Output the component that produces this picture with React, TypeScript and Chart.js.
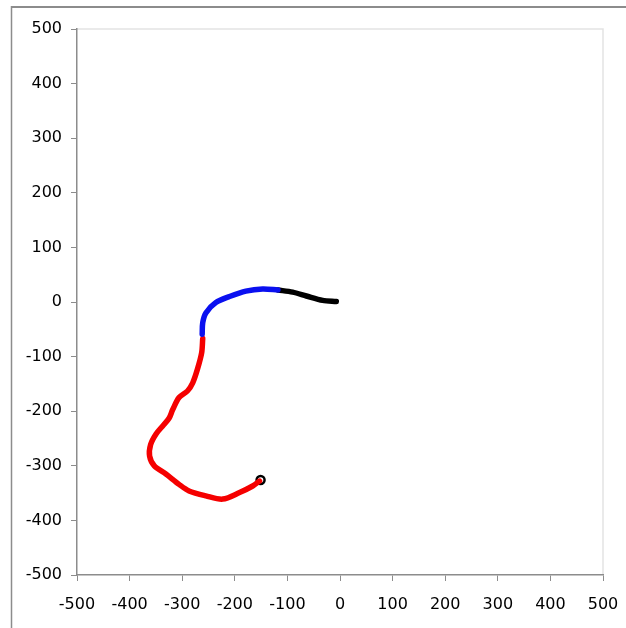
import React, { useEffect, useRef } from "react";
import { Chart, registerables } from "chart.js";

Chart.register(...registerables);

// Trace segments (x, y)
const blackX = [-7, -33, -64, -90, -118];
const blackY = [1, 3, 11, 18, 22];

const blueX = [-118, -147, -179, -210, -236, -255, -261, -262];
const blueY = [22, 24, 20, 10, -1, -20, -38, -59];

const redX = [-261, -263, -271, -280, -290, -306, -318, -325, -337, -350, -360, -362, -353, -331, -306, -287, -255, -223, -191, -166, -153];
const redY = [-67, -93, -123, -148, -163, -175, -197, -213, -227, -242, -261, -282, -300, -315, -334, -346, -355, -361, -349, -337, -328];

const markerX = [-151];
const markerY = [-326];

const axisMin = -500;
const axisMax = 500;
const axisStep = 100;

const toPoints = (xs: number[], ys: number[]) => xs.map((x, i) => ({ x, y: ys[i] }));

const frame = {
  id: "frame",
  beforeDraw(chart: any) {
    const { ctx, chartArea } = chart;
    ctx.save();
    // outer frame (top and left edges)
    ctx.strokeStyle = "#8c8c8c";
    ctx.lineWidth = 2;
    ctx.beginPath();
    ctx.moveTo(11, 7);
    ctx.lineTo(626, 7);
    ctx.stroke();
    ctx.lineWidth = 1.5;
    ctx.beginPath();
    ctx.moveTo(11.5, 6);
    ctx.lineTo(11.5, 628);
    ctx.stroke();
    // light plot border on top and right
    ctx.strokeStyle = "#e3e3e3";
    ctx.lineWidth = 1.5;
    ctx.beginPath();
    ctx.moveTo(chartArea.left, chartArea.top);
    ctx.lineTo(chartArea.right, chartArea.top);
    ctx.lineTo(chartArea.right, chartArea.bottom);
    ctx.stroke();
    ctx.restore();
  },
};

export default function App() {
  const ref = useRef<HTMLCanvasElement | null>(null);

  useEffect(() => {
    if (!ref.current) return;
    const lineStyle = {
      showLine: true,
      pointRadius: 0,
      pointHoverRadius: 0,
      borderWidth: 5.5,
      borderCapStyle: "round" as const,
      borderJoinStyle: "round" as const,
      tension: 0.3,
    };
    const font = { family: "'DejaVu Sans', sans-serif", size: 16 };
    const chart = new Chart(ref.current, {
      type: "scatter",
      data: {
        datasets: [
          { ...lineStyle, data: toPoints(blueX, blueY), borderColor: "#0a10f0", backgroundColor: "#0a10f0" },
          { ...lineStyle, data: toPoints(blackX, blackY), borderColor: "#000000", backgroundColor: "#000000" },
          { ...lineStyle, data: toPoints(redX, redY), borderColor: "#f50000", backgroundColor: "#f50000" },
          {
            data: toPoints(markerX, markerY),
            showLine: false,
            pointRadius: 4,
            borderWidth: 2.5,
            borderColor: "#000000",
            backgroundColor: "#ffffff",
          },
        ],
      },
      options: {
        responsive: false,
        animation: false,
        layout: { padding: { top: 29, right: 23, bottom: 0, left: 0 } },
        plugins: { legend: { display: false }, tooltip: { enabled: false } },
        scales: {
          x: {
            type: "linear",
            min: axisMin,
            max: axisMax,
            afterFit: (s: any) => {
              s.height = 53;
              s.paddingLeft = 0;
              s.paddingRight = 0;
            },
            ticks: { stepSize: axisStep, color: "#000000", font, padding: 14, maxRotation: 0 },
            grid: { drawOnChartArea: false, drawTicks: true, tickLength: 6, color: "#8c8c8c" },
            border: { color: "#8c8c8c", width: 1.5 },
          },
          y: {
            type: "linear",
            min: axisMin,
            max: axisMax,
            afterFit: (s: any) => {
              s.width = 77;
              s.paddingTop = 0;
              s.paddingBottom = 0;
            },
            ticks: { stepSize: axisStep, color: "#000000", font, padding: 9 },
            grid: { drawOnChartArea: false, drawTicks: true, tickLength: 6, color: "#8c8c8c" },
            border: { color: "#8c8c8c", width: 1.5 },
          },
        },
      },
      plugins: [frame],
    });
    return () => chart.destroy();
  }, []);

  return (
    <div style={{ position: "fixed", left: 0, top: 0, width: 626, height: 628, background: "#ffffff" }}>
      <canvas ref={ref} width={626} height={628} style={{ display: "block", width: 626, height: 628 }} />
    </div>
  );
}
